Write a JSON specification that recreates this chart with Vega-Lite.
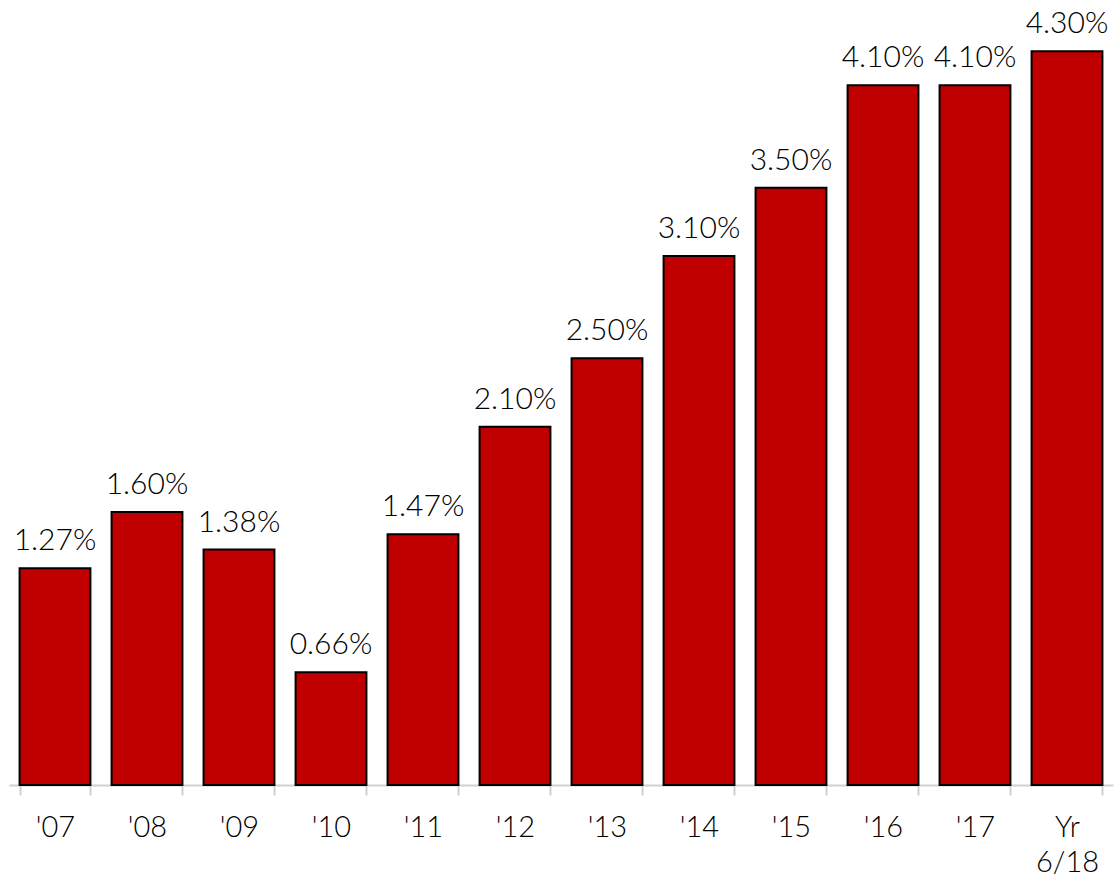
{
  "$schema": "https://vega.github.io/schema/vega-lite/v6.json",
  "width": 1104,
  "height": 785,
  "autosize": {"type": "none"},
  "padding": {"left": 9, "top": 0, "right": 4, "bottom": 99},
  "background": "white",
  "config": {"view": {"stroke": null}, "font": "Lato"},
  "data": {"values": [
    {"year": "'07", "rate": 0.0127},
    {"year": "'08", "rate": 0.0160},
    {"year": "'09", "rate": 0.0138},
    {"year": "'10", "rate": 0.0066},
    {"year": "'11", "rate": 0.0147},
    {"year": "'12", "rate": 0.0210},
    {"year": "'13", "rate": 0.0250},
    {"year": "'14", "rate": 0.0310},
    {"year": "'15", "rate": 0.0350},
    {"year": "'16", "rate": 0.0410},
    {"year": "'17", "rate": 0.0410},
    {"year": "Yr 6/18", "rate": 0.0430}
  ]},
  "encoding": {
    "x": {"field": "year", "type": "nominal", "sort": null,
      "scale": {"paddingInner": 0.23, "paddingOuter": 0.115},
      "axis": {"title": null, "labelAngle": 0, "labelFontSize": 29, "labelFontWeight": 300, "labelColor": "#000000",
        "labelPadding": 18, "labelLineHeight": 35,
        "labelExpr": "datum.value == 'Yr 6/18' ? ['Yr', '6/18'] : datum.value",
        "tickBand": "extent", "tickSize": 10, "tickColor": "#d0d0d0", "tickWidth": 2,
        "domainColor": "#d0d0d0", "domainWidth": 2}},
    "y": {"field": "rate", "type": "quantitative", "scale": {"domain": [0, 0.046]}, "axis": null}
  },
  "layer": [
    {"mark": {"type": "bar", "color": "#C00000", "stroke": "#000000", "strokeWidth": 2}},
    {"mark": {"type": "text", "baseline": "alphabetic", "dy": -18, "fontSize": 30, "fontWeight": 300, "color": "#000000"},
     "encoding": {"text": {"field": "rate", "format": ".2%"}}}
  ]
}
